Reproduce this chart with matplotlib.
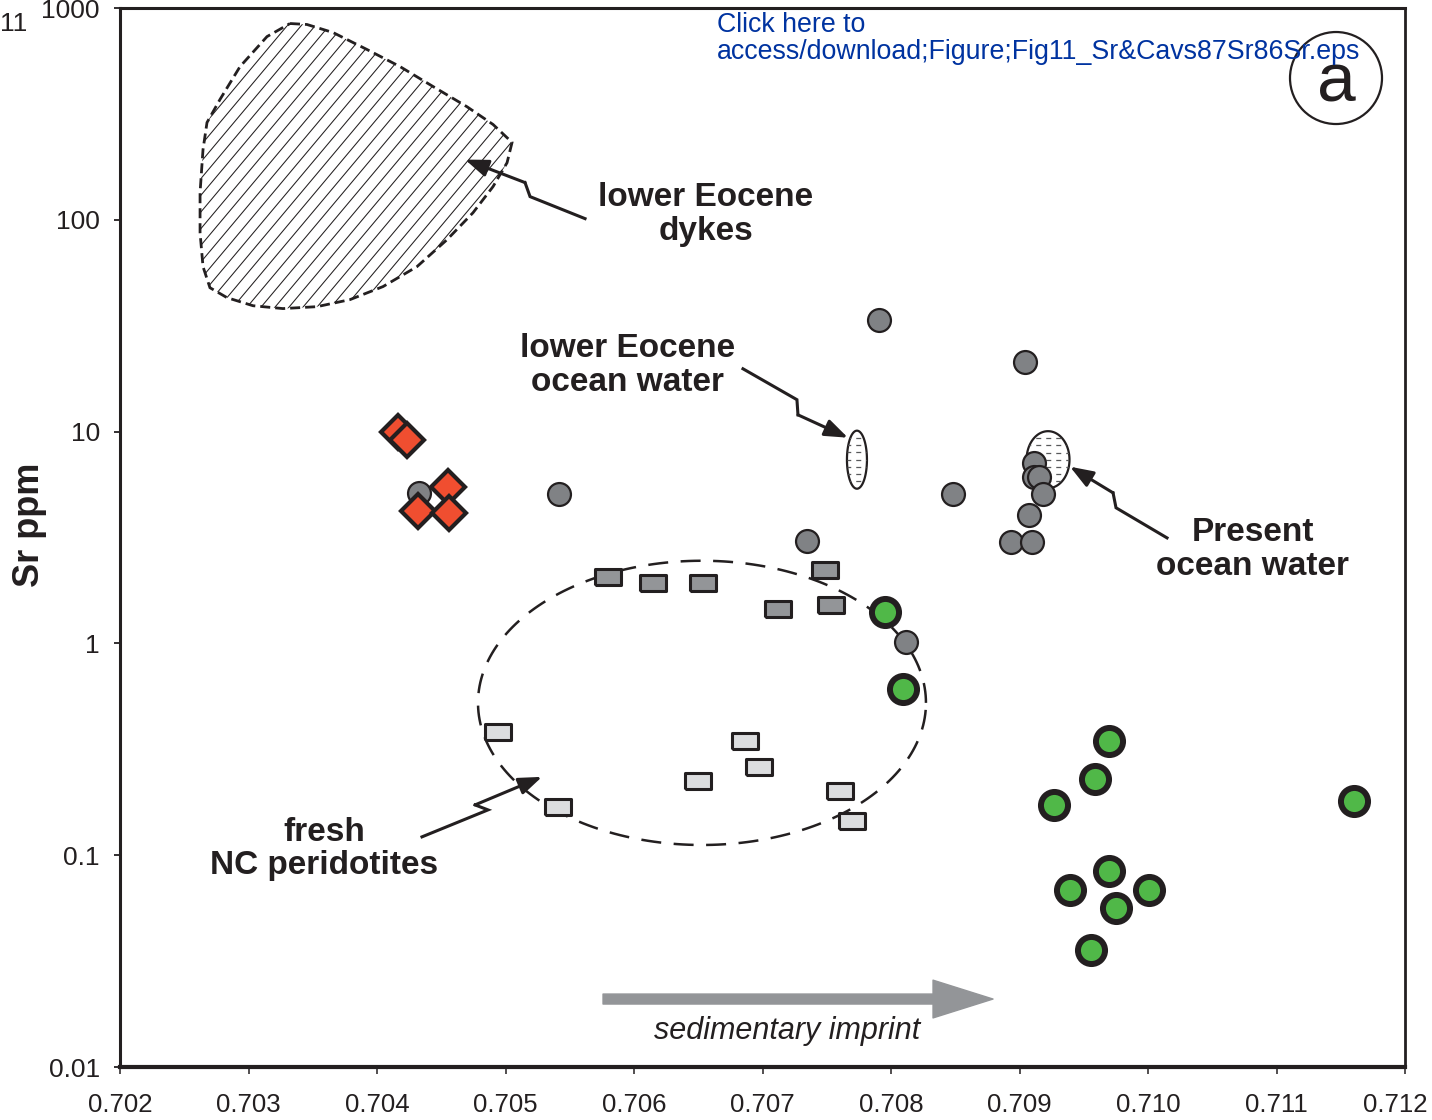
import numpy as np
import matplotlib
matplotlib.use("Agg")
import matplotlib.pyplot as plt
from matplotlib.patches import Polygon, Ellipse
from matplotlib.collections import LineCollection
from matplotlib.transforms import ScaledTranslation

plt.rcParams['font.family'] = ['Liberation Sans', 'DejaVu Sans']

INK = '#231f20'

# --- samples (87Sr/86Sr , Sr ppm) ---
diam_x = [0.70416, 0.70423, 0.70455, 0.70432, 0.70456]
diam_y = [10.0, 9.16, 5.49, 4.23, 4.14]

gc_x = [0.70433, 0.70542, 0.70848, 0.70791, 0.70904, 0.70735, 0.70812,
        0.70911, 0.70911, 0.70915, 0.70918, 0.70907, 0.70893, 0.70910]
gc_y = [5.14, 5.09, 5.09, 33.8, 21.4, 3.05, 1.02,
        7.13, 6.12, 6.12, 5.09, 4.05, 3.02, 3.02]

dsq_x = [0.70580, 0.70615, 0.70654, 0.70712, 0.70749, 0.70753]
dsq_y = [2.06, 1.93, 1.93, 1.46, 2.23, 1.52]

lsq_x = [0.70494, 0.70541, 0.70650, 0.70686, 0.70697, 0.70760, 0.70770]
lsq_y = [0.382, 0.169, 0.224, 0.347, 0.261, 0.201, 0.145]

grn_x = [0.70795, 0.70809, 0.70970, 0.70959, 0.70927, 0.71160,
         0.70970, 0.70939, 0.71001, 0.70975, 0.70956]
grn_y = [1.41, 0.610, 0.347, 0.229, 0.173, 0.181,
         0.0843, 0.0686, 0.0686, 0.0564, 0.0357]

# lower Eocene dykes field outline
dyke_x = [0.703323, 0.703455, 0.703658, 0.703922, 0.704179, 0.704436, 0.704700,
          0.704903, 0.705051, 0.705012, 0.704903, 0.704747, 0.704545, 0.704311,
          0.704047, 0.703790, 0.703533, 0.703268, 0.703035, 0.702833, 0.702700,
          0.702646, 0.702623, 0.702623, 0.702646, 0.702677, 0.702778, 0.702934,
          0.703144]
dyke_y = [845, 836, 766, 637, 529, 426, 342,
          282, 232, 186, 143.5, 108, 80.6, 60.1,
          48.4, 42.0, 38.9, 38.1, 39.3, 42.9, 47.8,
          60.1, 87.0, 134.4, 214.6, 288, 370, 529,
          733]

# fields drawn as ellipses: centre x, centre y, half width (x), half height (decades)
perid_field = (0.706529, 0.524, 0.001743, 0.671)
ocean_fields = [(0.707735, 7.37, 0.0000778, 0.137),
                (0.709222, 7.37, 0.000167, 0.1346)]

xticks = [0.702, 0.703, 0.704, 0.705, 0.706, 0.707, 0.708, 0.709, 0.710, 0.711, 0.712]
yticks = [0.01, 0.1, 1, 10, 100, 1000]
ytick_labels = ['0.01', '0.1', '1', '10', '100', '1000']


def log_ellipse(cx, cy, hw, hd, n=240):
    t = np.linspace(0, 2 * np.pi, n)
    return np.column_stack([cx + hw * np.cos(t),
                            10 ** (np.log10(cy) + hd * np.sin(t))])


fig = plt.figure(figsize=(14.32, 11.2), dpi=100)
ax = fig.add_axes([0.0838, 0.0473, 0.89735, 0.94554])
ax.set_yscale('log')
ax.set_xlim(0.702, 0.712)
ax.set_ylim(0.01, 1000)

# dykes field: dashed border + fine diagonal hatching clipped to it
dyke_patch = Polygon(np.column_stack([dyke_x, dyke_y]), closed=True, fill=False,
                     ec=INK, lw=2.0, ls=(0, (3.6, 1.8)), zorder=2)
ax.add_patch(dyke_patch)
pos = ax.get_position()
W = pos.width * fig.get_figwidth() * fig.dpi
H = pos.height * fig.get_figheight() * fig.dpi
run = H / np.tan(np.radians(50))
segs = [[(c / W, 0), ((c + run) / W, 1)] for c in np.arange(-run, W, 14.0)]
hatch = LineCollection(segs, transform=ax.transAxes, colors=INK, lw=0.75, zorder=1)
ax.add_collection(hatch)
hatch.set_clip_path(dyke_patch)

# fresh peridotite field
ax.add_patch(Polygon(log_ellipse(*perid_field), closed=True, fill=False, ec=INK,
                     lw=1.8, ls=(0, (8, 5)), zorder=2))

# ocean water fields
for cx, cy, hw, hd in ocean_fields:
    p = Polygon(log_ellipse(cx, cy, hw, hd), closed=True, fc='white', ec=INK,
                lw=1.6, zorder=3)
    ax.add_patch(p)
    rows = 10 ** np.linspace(np.log10(cy) - hd, np.log10(cy) + hd, 9)[1:-1]
    ln = ax.hlines(rows, cx - hw, cx + hw, colors='#58595b', lw=0.9,
                   linestyles=(1, (4, 4)), zorder=3.1)
    ln.set_clip_path(p)

rect = [(-1.55, -1), (1.55, -1), (1.55, 1), (-1.55, 1), (-1.55, -1)]

ax.plot(gc_x, gc_y, 'o', ms=16.5, mfc='#808285', mec=INK, mew=1.6, zorder=4)
ax.plot(dsq_x, dsq_y, ls='none', marker=rect, ms=18.5, mfc='#939598', mec=INK,
        mew=2.2, zorder=4)
ax.plot(lsq_x, lsq_y, ls='none', marker=rect, ms=18.5, mfc='#dcdddf', mec=INK,
        mew=2.2, zorder=4)
ax.plot(diam_x, diam_y, 'D', ms=17, mfc='#f04e30', mec=INK, mew=3, zorder=5)
ax.plot(grn_x, grn_y, 'o', ms=19.5, mfc='#50b848', mec=INK, mew=4.3, zorder=5)


def bolt(xs, ys):
    ax.plot(xs[:-1], ys[:-1], color=INK, lw=2.2, solid_joinstyle='miter', zorder=6)
    ax.annotate('', xy=(xs[-1], ys[-1]), xytext=(xs[-2], ys[-2]),
                arrowprops=dict(arrowstyle='-|>,head_length=0.7,head_width=0.26',
                                color=INK, lw=2.2, shrinkA=0, shrinkB=0,
                                mutation_scale=20), zorder=6)


bolt([0.705619, 0.705191, 0.705152, 0.704685], [101.3, 128.7, 149.9, 192.5])
bolt([0.706848, 0.707268, 0.707276, 0.707665], [19.8, 14.15, 12.0, 9.36])
bolt([0.710148, 0.709751, 0.709728, 0.709393], [3.15, 4.37, 5.14, 6.83])
bolt([0.704350, 0.704864, 0.704763, 0.705284], [0.1221, 0.1637, 0.1728, 0.2344])

lab = dict(ha='center', va='center', fontsize=24, fontweight='bold', color=INK,
           linespacing=1.1, zorder=7)
ax.text(0.706560, 106, 'lower Eocene\ndykes', **lab)
ax.text(0.705946, 20.5, 'lower Eocene\nocean water', **lab)
ax.text(0.710817, 2.78, 'Present\nocean water', **lab)
ax.text(0.703588, 0.107, 'fresh\nNC peridotites', **lab)

# sedimentary imprint arrow
ax.annotate('', xy=(0.708794, 0.02094), xytext=(0.705759, 0.02094),
            arrowprops=dict(arrowstyle='simple,head_length=1.08,head_width=0.68,tail_width=0.18',
                            color='#939598', shrinkA=0, shrinkB=0, mutation_scale=40))
ax.text(0.707191, 0.0148, 'sedimentary imprint', ha='center', va='center',
        fontsize=22, style='italic', color=INK)

# panel letter
ax.add_patch(Ellipse((0.9463, 0.9339), 92 / W, 92 / H, transform=ax.transAxes,
                     fc='white', ec=INK, lw=1.6, zorder=7))
ax.text(0.9463, 0.912, 'a', transform=ax.transAxes, ha='center', va='baseline',
        fontsize=50, color=INK, zorder=8)

ax.text(0.4646, 0.9962, 'Click here to\naccess/download;Figure;Fig11_Sr&Cavs87Sr86Sr.eps',
        transform=ax.transAxes, ha='left', va='top', fontsize=19.3, color='#0033a0',
        linespacing=1.05, zorder=9)
fig.text(0.0, 0.979, '11', ha='left', va='center', fontsize=19, color=INK)

# axes styling
ax.set_xticks(xticks)
ax.set_xticklabels(['%.3f' % v for v in xticks])
ax.set_yticks(yticks)
ax.set_yticklabels(ytick_labels)
ax.minorticks_off()
ax.tick_params(axis='x', direction='out', length=5, width=1.1, pad=14,
               labelsize=18.5, colors=INK)
ax.tick_params(axis='y', direction='out', length=4.5, width=1.3, pad=10,
               labelsize=19, colors=INK)
last = ax.get_xticklabels()[-1]
last.set_transform(last.get_transform() + ScaledTranslation(-7 / 72, 0, fig.dpi_scale_trans))
for side, w in [('left', 2.2), ('right', 2.0), ('top', 2.2), ('bottom', 3.0)]:
    ax.spines[side].set_linewidth(w)
    ax.spines[side].set_color(INK)

ax.set_ylabel('Sr ppm', fontsize=26, fontweight='bold', color=INK)
ax.yaxis.set_label_coords(-0.057, 0.512)

fig.savefig('out.png', dpi=100)
